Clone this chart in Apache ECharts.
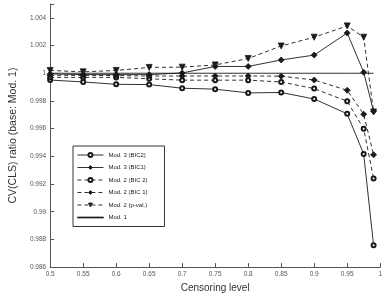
<!DOCTYPE html>
<html><head><meta charset="utf-8">
<script src="https://cdn.jsdelivr.net/npm/echarts@6/dist/echarts.min.js"></script>
<style>html,body{margin:0;padding:0;background:#fff}#c{width:385px;height:298px}</style>
</head><body><div id="c"></div>
<script>
var censoring = [0.5, 0.55, 0.6, 0.65, 0.7, 0.75, 0.8, 0.85, 0.9, 0.95, 0.975, 0.99];
var mod3BIC2 = [0.99951, 0.99937, 0.9992, 0.99918, 0.99892, 0.99885, 0.99858, 0.99861, 0.99814, 0.99707, 0.99416, 0.98758];
var mod3BIC1 = [0.99995, 0.9999, 0.9999, 0.9999, 1.00002, 1.00049, 1.00049, 1.00096, 1.00131, 1.00291, 1.00007, 0.99725];
var mod2BIC2 = [0.9997, 0.9997, 0.9997, 0.9996, 0.9995, 0.9995, 0.9995, 0.99937, 0.99889, 0.99798, 0.99599, 0.9924];
var mod2BIC1 = [0.99985, 0.99985, 0.99983, 0.9998, 0.9998, 0.9998, 0.9998, 0.99979, 0.99951, 0.99877, 0.99704, 0.99411];
var mod2Pval = [1.0002, 1.0001, 1.0002, 1.00042, 1.00044, 1.0006, 1.00106, 1.00197, 1.0026, 1.00342, 1.0026, 0.9972];
var mod1 = [1, 1, 1, 1, 1, 1, 1, 1, 1, 1, 1, 1];
var xLabels = ['0.5','0.55','0.6','0.65','0.7','0.75','0.8','0.85','0.9','0.95','1'];

function pairs(vals){ return censoring.map(function(x,i){ return [x, vals[i]]; }); }
var C = '#1a1a1a';
function mk(name, vals, dashed, symbol, rot, size){
  return {
    name: name, type: 'line', data: pairs(vals),
    symbol: symbol, symbolSize: size, symbolRotate: rot || 0,
    showSymbol: symbol !== 'none',
    lineStyle: {color: C, width: 0.9, type: dashed ? [4,3] : 'solid'},
    itemStyle: {color: C, borderColor: C, borderWidth: 0.8},
    emphasis: {disabled: true}, animation: false
  };
}
var chart = echarts.init(document.getElementById('c'));
chart.setOption({
  animation: false,
  grid: {left: 29, right: 1, top: 4, bottom: 23},
  legend: {
    orient: 'vertical', left: 73, top: 146,
    itemWidth: 26, itemHeight: 5, itemGap: 6.5,
    padding: [6, 17, 6, 4],
    borderColor: '#333', borderWidth: 1, backgroundColor: '#fff',
    textStyle: {fontSize: 6, color: '#222', fontFamily: 'Liberation Sans'},
    lineStyle: {width: 0.9},
    itemStyle: {borderWidth: 0.8},
    data: [
      {name: 'Mod. 3 (BIC2)'}, {name: 'Mod. 3 (BIC1)'}, {name: 'Mod. 2 (BIC 2)'},
      {name: 'Mod. 2 (BIC 1)'}, {name: 'Mod. 2 (p-val.)'},
      {name: 'Mod. 1', icon: 'path://M0,0H26V0.9H0Z'}
    ]
  },
  xAxis: {
    type: 'value', min: 0.5, max: 1, interval: 0.05,
    name: 'Censoring level', nameLocation: 'middle', nameGap: 15,
    nameTextStyle: {fontSize: 10, color: '#333', fontFamily: 'Liberation Sans'},
    axisLine: {lineStyle: {color: '#555', width: 1}},
    axisTick: {inside: true, length: 4, lineStyle: {color: '#555'}},
    axisLabel: {fontSize: 6.5, color: '#555', margin: 4, fontFamily: 'Liberation Sans',
      formatter: function(v){ var i = Math.round((v-0.5)/0.05); return xLabels[i] || ''; }},
    splitLine: {show: false}
  },
  yAxis: {
    type: 'value', min: 0.986, max: 1.005, interval: 0.002,
    name: 'CV(CLS) ratio (base: Mod. 1)', nameLocation: 'middle', nameGap: 21, nameRotate: 90,
    nameTextStyle: {fontSize: 10.5, color: '#333', fontFamily: 'Liberation Sans'},
    axisLine: {show: true, lineStyle: {color: '#555', width: 1}},
    axisTick: {inside: true, length: 4, lineStyle: {color: '#555'}},
    axisLabel: {fontSize: 6.5, color: '#555', margin: 4, fontFamily: 'Liberation Sans',
      formatter: function(v){ var k = v/0.002; if (Math.abs(k-Math.round(k))>1e-6) return ''; return String(parseFloat(v.toFixed(3))); }},
    splitLine: {show: false}
  },
  series: [
    mk('Mod. 3 (BIC2)', mod3BIC2, false, 'emptyCircle', 0, 4),
    mk('Mod. 3 (BIC1)', mod3BIC1, false, 'diamond', 0, 6),
    mk('Mod. 2 (BIC 2)', mod2BIC2, true, 'emptyCircle', 0, 4),
    mk('Mod. 2 (BIC 1)', mod2BIC1, true, 'diamond', 0, 6),
    mk('Mod. 2 (p-val.)', mod2Pval, true, 'triangle', 180, 6),
    mk('Mod. 1', mod1, false, 'none', 0, 0)
  ]
});
</script></body></html>
